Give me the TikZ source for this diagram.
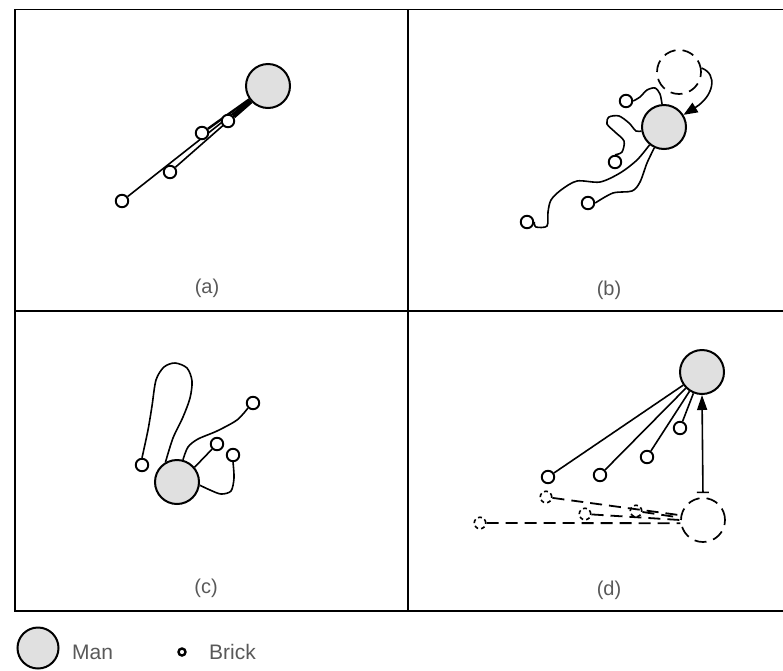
\documentclass[tikz,border=0pt]{standalone}
\usepackage{fontspec}
\setmainfont{Liberation Sans}
\usetikzlibrary{arrows.meta,backgrounds}
\definecolor{mangray}{gray}{0.88}
\definecolor{inkgray}{gray}{0.35}
\begin{document}
\begin{tikzpicture}[x=1pt,y=-1pt,
  man/.style={circle,draw,line width=2pt,fill=mangray,minimum size=44pt,inner sep=0pt},
  ghostman/.style={circle,draw,line width=1.7pt,dash pattern=on 12pt off 7pt,minimum size=44pt,inner sep=0pt},
  brick/.style={circle,draw,line width=1.9pt,fill=white,minimum size=12.5pt,inner sep=0pt},
  ghostbrick/.style={circle,draw,line width=1.6pt,dash pattern=on 4pt off 3pt,minimum size=11.5pt,inner sep=0pt},
  wire/.style={line width=1.6pt},
  ghostwire/.style={line width=1.8pt,dash pattern=on 12pt off 7pt},
  frame/.style={line width=1.8pt},
  caption/.style={font=\fontsize{20}{22}\selectfont,text=inkgray,inner sep=0pt},
  legendtext/.style={font=\fontsize{21}{24}\selectfont,text=inkgray,anchor=west,inner sep=0pt},
  push/.style={-{Triangle[length=14pt,width=11pt]}}
]
\useasboundingbox (0,0) rectangle (783,670);

% panel grid
\draw[frame] (783,9.5) -- (15,9.5) -- (15,611) -- (783,611);
\draw[frame] (15,311) -- (783,311);
\draw[frame] (408,9.5) -- (408,611);

% ---------- (a) ----------
\node[man] (am) at (268,86) {};
\node[brick] (a1) at (122,201) {};
\node[brick] (a2) at (170,172) {};
\node[brick] (a3) at (202,133) {};
\node[brick] (a4) at (228,121) {};
\node[caption] (la) at (207,288) {(a)};

% ---------- (b) ----------
\node[man] (bm) at (664,127) {};
\node[ghostman] (bg) at (679,72) {};
\node[brick] (b1) at (626,101) {};
\node[brick] (b2) at (615,162) {};
\node[brick] (b3) at (588,203) {};
\node[brick] (b4) at (527,222) {};
\node[caption] (lb) at (609,290) {(b)};

% ---------- (c) ----------
\node[man] (cm) at (177,482) {};
\node[brick] (c1) at (142,465) {};
\node[brick] (c2) at (253,403) {};
\node[brick] (c3) at (217,444) {};
\node[brick] (c4) at (233,455) {};
\node[caption] (lc) at (206,588) {(c)};

% ---------- (d) ----------
\node[man] (dm) at (702,372) {};
\node[ghostman] (dg) at (703,520) {};
\node[brick] (d1) at (548,477) {};
\node[brick] (d2) at (600,475) {};
\node[brick] (d3) at (647,457) {};
\node[brick] (d4) at (680,428) {};
\node[ghostbrick] (g1) at (480,523) {};
\node[ghostbrick] (g2) at (546,497) {};
\node[ghostbrick] (g3) at (585,514) {};
\node[ghostbrick] (g4) at (636,511) {};
\node[caption] (ld) at (609,590) {(d)};

% ---------- legend ----------
\node[man,minimum size=41pt] (keyman) at (38,648) {};
\node[legendtext] (keymantext) at (72,652) {Man};
\node[circle,draw,line width=2.4pt,minimum size=7pt,inner sep=0pt] (keybrick) at (182,652) {};
\node[legendtext] (keybricktext) at (209,652) {Brick};

\begin{pgfonlayer}{background}
  % (a) straight pulls that bunch up near the man
  \draw[wire] (a1) -- (am);
  \draw[wire] (a2) -- (am);
  \draw[line width=2.4pt] (a3) -- (am);
  \draw[line width=5pt] (a4) -- (am);

  % (b) wandering pulls
  \draw[wire] plot[smooth] coordinates {(b1.east) (640,97) (647,90) (655,88) (660,94) (bm.95)};
  \draw[wire] plot[smooth] coordinates {(b2.north) (622,152) (624,141) (615,132) (607,124) (609,117) (619,116) (629,123) (636,131) (bm.190)};
  \draw[wire] plot[smooth] coordinates {(b4.east) (536,227) (547,226) (548,212) (551,200) (561,190) (577,181) (600,182) (620,173) (637,160) (bm.231)};
  \draw[wire] plot[smooth] coordinates {(b3.east) (613,193) (632,191) (640,182) (647,163) (bm.245)};
  \draw[wire,push] (bg.10) .. controls (718,74) and (714,96) .. (bm.32);

  % (c) tangled pulls
  \draw[wire] plot[smooth] coordinates {(c1.north) (148,430) (152,406) (156,380) (164,367) (175,363) (187,368) (192,381) (190,398) (183,417) (173,438) (cm.120)};
  \draw[wire] plot[smooth] coordinates {(cm.75) (188,447) (198,439) (217,431) (237,420) (c2.south west)};
  \draw[wire] (cm.40) -- (c3);
  \draw[wire] plot[smooth] coordinates {(cm.-8) (210,490) (221,494) (231,491) (234,478) (c4.south)};

  % (d) straight pulls and the move
  \draw[wire] (d1) -- (dm.215);
  \draw[wire] (d2) -- (dm.225);
  \draw[wire] (d3) -- (dm.237);
  \draw[wire] (d4) -- (dm.248);
  \draw[wire,{Bar[width=12pt]}-{Triangle[length=15pt,width=10pt]},shorten <=4pt] (dg.north) -- (dm.south);
  \draw[ghostwire] (g1) -- (dg.188);
  \draw[ghostwire] (g2) -- (dg.168);
  \draw[ghostwire] (g3) -- (dg.180);
  \draw[ghostwire] (g4) -- (dg.174);
\end{pgfonlayer}
\end{tikzpicture}
\end{document}
